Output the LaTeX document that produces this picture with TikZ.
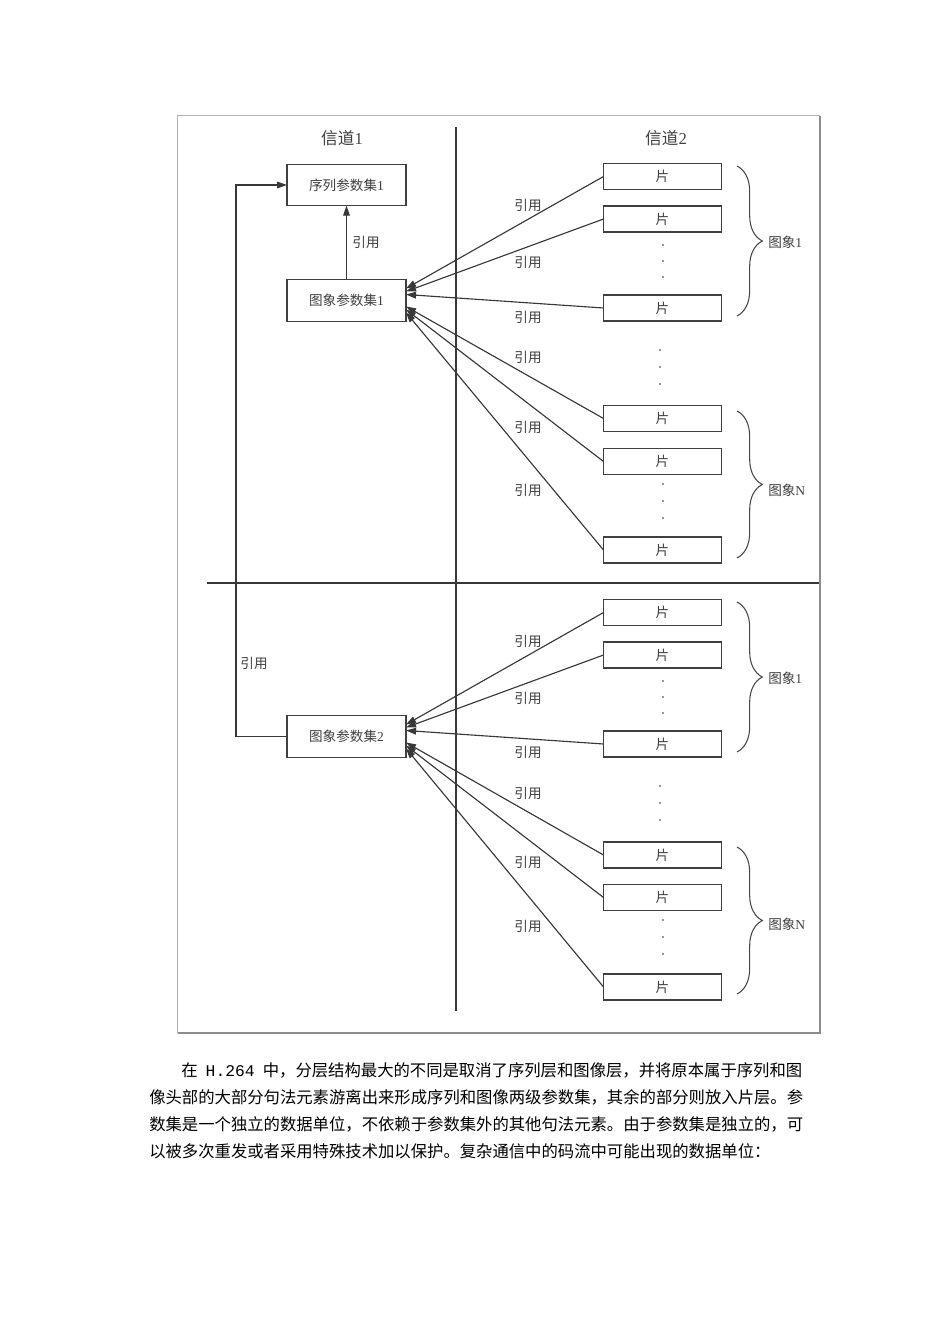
\documentclass[tikz,border=0pt]{standalone}
\usepackage{fontspec}
\setmainfont{Liberation Serif}
\newfontfamily\cjk{Noto Sans CJK SC}
\newfontfamily\monof{Liberation Mono}
\usetikzlibrary{arrows.meta,decorations.pathreplacing,calc}
\begin{document}
\begin{tikzpicture}[x=0.75pt,y=-0.75pt,
  ln/.style={draw=black!78, line width=0.85pt},
  bigbox/.style={draw=black!75, line width=0.9pt, minimum width=89.25pt, minimum height=31pt, inner sep=0pt, outer sep=0pt, font=\cjk\fontsize{10.2pt}{12pt}\selectfont, text=black!75},
  slicebox/.style={draw=black!75, line width=0.9pt, minimum width=88.5pt, minimum height=19.5pt, inner sep=0pt, outer sep=0pt, font=\cjk\fontsize{10.2pt}{12pt}\selectfont, text=black!75},
  lbl/.style={font=\cjk\fontsize{10.2pt}{12pt}\selectfont, text=black!75, inner sep=0pt},
  hdr/.style={font=\cjk\fontsize{12.5pt}{14pt}\selectfont, text=black!75, inner sep=0pt},
  arr/.style={ln, -{Triangle[length=7.5pt,width=5pt]}},
  brc/.style={draw=black!72, line width=0.8pt, decorate, decoration={brace, amplitude=19pt}},
  dotm/.style={fill=black!55},
  para/.style={font=\cjk\fontsize{12.26pt}{15pt}\selectfont, anchor=west, inner sep=0pt, text=black}
]
\useasboundingbox (0,0) rectangle (950,1344);
\fill[white] (0,0) rectangle (950,1344);

% frame
\draw[black!30, line width=0.6pt] (177,115) rectangle (819,1032);
\draw[black!45, line width=2pt] (820,116) -- (820,1033) -- (178,1033);

% dividers
\coordinate (vtop) at (456,127);
\coordinate (vbot) at (456,1011);
\coordinate (hl) at (207,583);
\coordinate (hr) at (819,583);
\draw[ln] (vtop) -- (vbot);
\draw[ln] (hl) -- (hr);

% headers
\node[hdr] (h1) at (342,138) {信道\textrm{1}};
\node[hdr] (h2) at (666,138) {信道\textrm{2}};

% parameter sets
\node[bigbox] (sps1) at (346.5,185) {序列参数集\textrm{1}};
\node[bigbox] (pps1) at (346.5,300.5) {图象参数集\textrm{1}};
\node[bigbox] (pps2) at (346.5,736.5) {图象参数集\textrm{2}};

\draw[arr] (pps1.north) -- (sps1.south);
\node[lbl] (r0) at (366,242) {引用};

\coordinate (lp) at (236,736.5);
\draw[arr] (pps2.west) -- (lp) |- (sps1.west);
\node[lbl] (rl) at (254,663) {引用};

% slices
\foreach \n/\y in {a1/176.5, a2/219, a3/308, a4/418.5, a5/461.5, a6/550,
                   b1/612.5, b2/655, b3/744, b4/855, b5/897.5, b6/987}
  \node[slicebox] (\n) at (662.5,\y) {片};

% arrows
\foreach \n/\d in {a1/-12,a2/-9,a3/-6,a4/6,a5/9,a6/12}
  \draw[arr] (\n.west) -- ($(pps1.east)+(0,\d)$);
\foreach \n/\d in {b1/-12,b2/-9,b3/-6,b4/6,b5/9,b6/12}
  \draw[arr] (\n.west) -- ($(pps2.east)+(0,\d)$);

% reference labels
\foreach \y [count=\i] in {205,262,317,357,427,490}
  \node[lbl] (ra\i) at (528,\y) {引用};
\foreach \y [count=\i] in {641,698,752,793,862,926}
  \node[lbl] (rb\i) at (528,\y) {引用};

% dots
\foreach \x/\y in {663/245,663/261,663/277, 660/350,660/367,660/384, 663/484,663/501,663/518,
                   663/681,663/697,663/713, 660/786,660/803,660/820, 663/920,663/937,663/954}
  \fill[dotm] (\x,\y) circle (0.9pt);

% braces
\coordinate (ba1) at (737,166); \coordinate (ba2) at (737,316);
\coordinate (ba3) at (737,411); \coordinate (ba4) at (737,558);
\coordinate (bb1) at (737,602); \coordinate (bb2) at (737,752);
\coordinate (bb3) at (737,847); \coordinate (bb4) at (737,994);
\draw[brc] (ba1) -- (ba2);
\draw[brc] (ba3) -- (ba4);
\draw[brc] (bb1) -- (bb2);
\draw[brc] (bb3) -- (bb4);
\node[lbl, anchor=west] (ga1) at (768,242) {图象\textrm{1}};
\node[lbl, anchor=west] (gaN) at (768,490) {图象\textrm{N}};
\node[lbl, anchor=west] (gb1) at (768,678) {图象\textrm{1}};
\node[lbl, anchor=west] (gbN) at (768,924) {图象\textrm{N}};

% paragraph
\node[para] (p1) at (181,1070) {\makebox[465.75pt][s]{在 {\monof H.264} 中，分层结构最大的不同是取消了序列层和图像层，并将原本属于序列和图}};
\node[para] (p2) at (149,1097) {像头部的大部分句法元素游离出来形成序列和图像两级参数集，其余的部分则放入片层。参};
\node[para] (p3) at (149,1124) {数集是一个独立的数据单位，不依赖于参数集外的其他句法元素。由于参数集是独立的，可};
\node[para] (p4) at (149,1151) {以被多次重发或者采用特殊技术加以保护。复杂通信中的码流中可能出现的数据单位：};
\end{tikzpicture}
\end{document}
